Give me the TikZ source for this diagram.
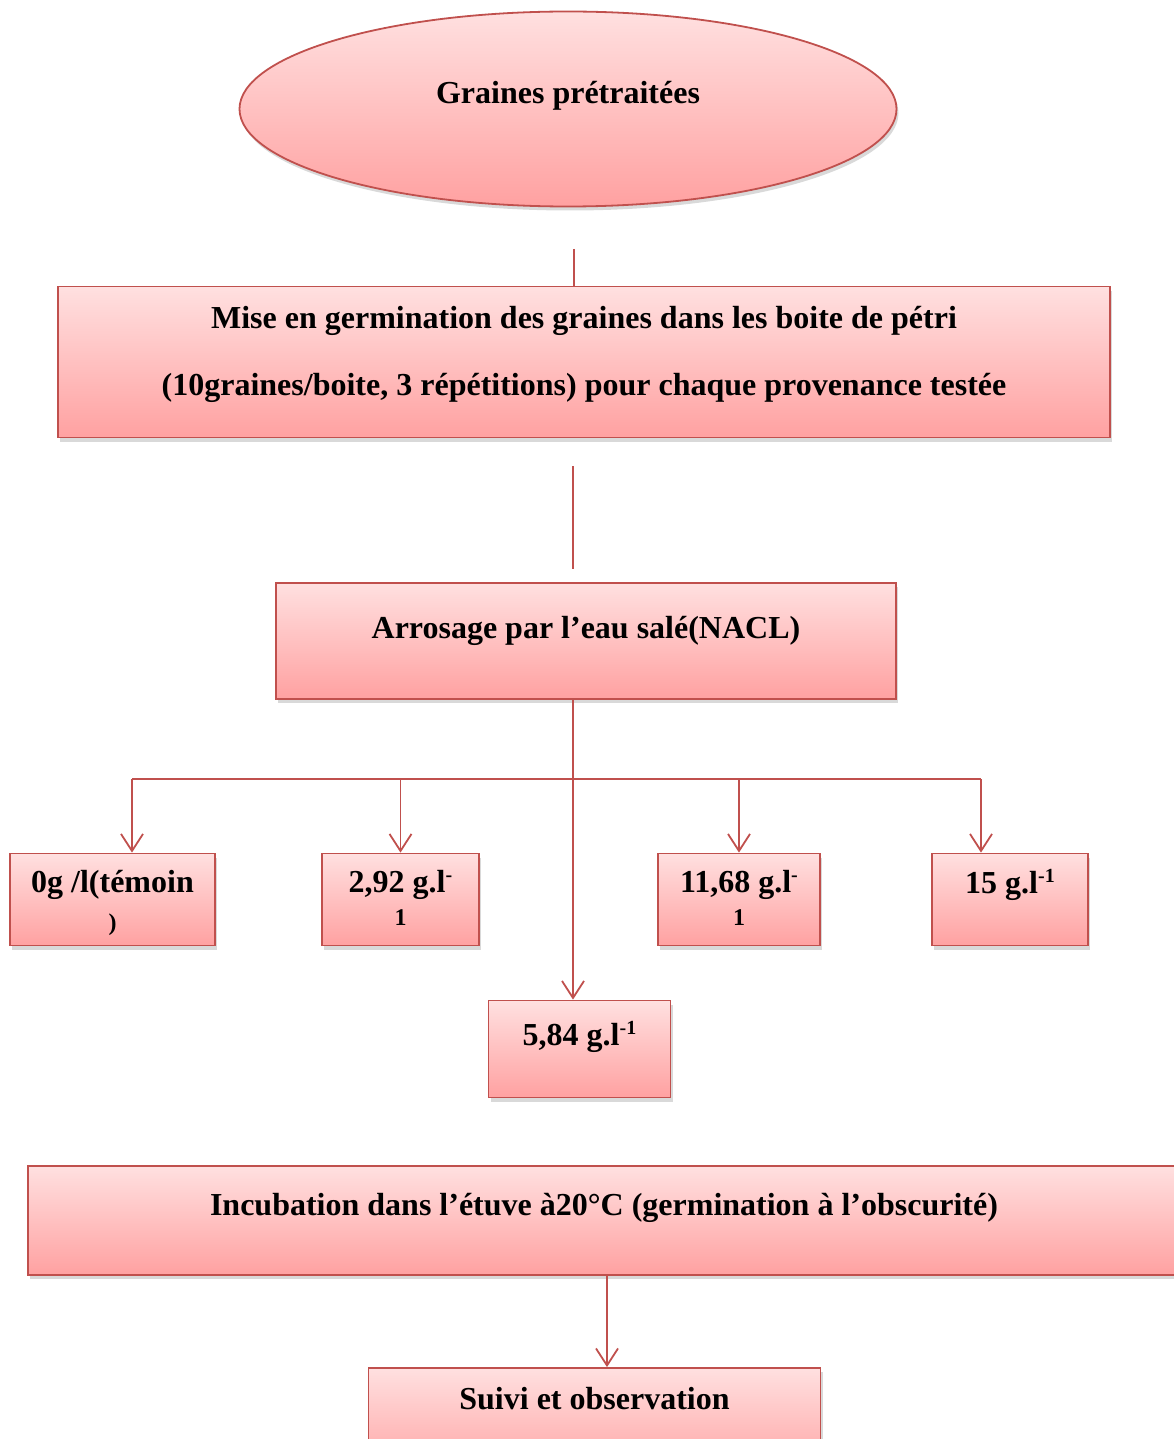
\documentclass[tikz,border=0pt]{standalone}
\usepackage{fontspec}
\setmainfont{Liberation Serif}
\usetikzlibrary{arrows.meta,positioning,shapes.geometric,shadows}
\definecolor{boxtop}{HTML}{FFE0E0}
\definecolor{boxbot}{HTML}{FFA1A1}
\definecolor{boxline}{HTML}{C0504D}
\newcommand{\expo}[1]{\raisebox{11pt}{\fontsize{20}{20}\selectfont #1}}
\newcommand{\petit}[1]{\fontsize{24}{24}\selectfont #1}

\begin{document}
\begin{tikzpicture}[x=1pt,y=-1pt,
	every node/.style={font=\bfseries\fontsize{32}{40}\selectfont, inner sep=0pt, text height=24pt},
	etape/.style={draw=boxline, line width=1.8pt, top color=boxtop, bottom color=boxbot,
		drop shadow={shadow xshift=2pt, shadow yshift=-4pt, opacity=.3, fill=black!50}},
	dose/.style={etape, minimum width=#1, minimum height=92pt, text depth=37pt, align=center},
	trait/.style={draw=boxline, line width=1.8pt},
	fleche/.style={trait, -{Straight Barb[length=17pt,width=22pt]}}]
	\useasboundingbox (0,0) rectangle (1173,1439);
	
	% Etapes
	\node[etape, ellipse, minimum width=657pt, minimum height=195pt, text depth=34pt] (graines) at (568,109) {Graines prétraitées};
	\node[etape, minimum width=1052pt, minimum height=151pt, text height=74.5pt, text depth=8pt, align=center] (mise) at (584,362)
		{Mise en germination des graines dans les boite de pétri\\[27pt](10graines/boite, 3 répétitions) pour chaque provenance testée};
	\node[etape, minimum width=620pt, minimum height=116pt, text depth=29pt] (arrosage) at (586,641) {Arrosage par l’eau salé(NACL)};
	
	% Doses
	\node[dose=205pt, text height=67.6pt, text depth=5pt] (temoin) at (112.5,899.5) {0g /l(témoin\\[-2pt]\petit{)}};
	\node[dose=157pt, text height=57.6pt, text depth=5pt] (c292) at (400.5,899.5) {2,92 g.l\expo{-}\\[-7pt]\petit{1}};
	\node[dose=162pt, text height=57.6pt, text depth=5pt] (c1168) at (739,899.5) {11,68 g.l\expo{-}\\[-7pt]\petit{1}};
	\node[dose=156pt] (c15) at (1010,899.5) {15 g.l\expo{-1}};
	\node[etape, minimum width=182pt, minimum height=97pt, text depth=32pt] (c584) at (579.5,1049) {5,84 g.l\expo{-1}};
	
	\node[etape, minimum width=1152pt, minimum height=109pt, text depth=35pt] (incub) at (604,1220.5) {Incubation dans l’étuve à20°C (germination à l’obscurité)};
	\node[etape, minimum width=452pt, minimum height=110pt, text depth=51pt] (suivi) at (594.5,1423) {Suivi et observation};
	
	% Liaisons
	\coordinate (haut) at (574,249);
	\coordinate (m1) at (573,466);
	\coordinate (m2) at (573,569);
	\coordinate (bus) at (573,779);
	\coordinate (busg) at (132,779);
	\coordinate (busd) at (981,779);
	\draw[trait] (haut) -- (haut |- mise.north);
	\draw[trait] (m1) -- (m2);
	\draw[trait] (bus |- arrosage.south) -- (bus);
	\draw[trait] (busg) -- (busd);
	\draw[fleche] (busg) -- (busg |- temoin.north);
	\draw[fleche] (c292.north |- bus) -- (c292.north);
	\draw[fleche] (c1168.north |- bus) -- (c1168.north);
	\draw[fleche] (busd) -- (busd |- c15.north);
	\draw[fleche] (bus) -- (bus |- c584.north);
	\draw[fleche] ([xshift=3pt]incub.south) -- ([xshift=3pt]incub.south |- suivi.north);
\end{tikzpicture}
\end{document}
